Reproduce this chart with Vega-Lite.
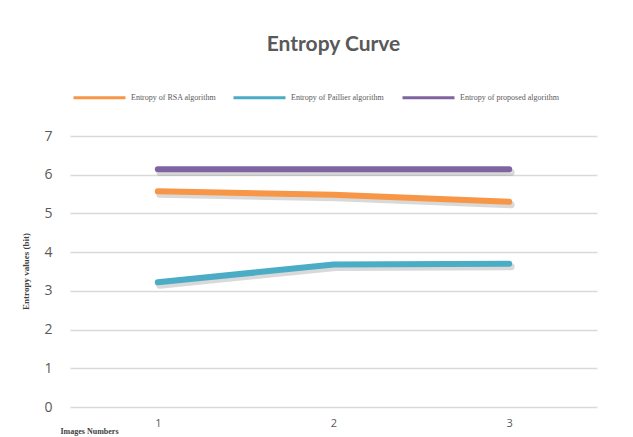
{
  "$schema": "https://vega.github.io/schema/vega-lite/v6.json",
  "autosize": "none",
  "width": 527,
  "height": 271,
  "padding": {"left": 70, "top": 136, "right": 36, "bottom": 30},
  "background": "white",
  "title": {
    "text": "Entropy Curve",
    "anchor": "middle",
    "font": "Lato",
    "fontSize": 21,
    "fontWeight": "bold",
    "color": "#595959",
    "offset": 15
  },
  "data": {
    "values": [
      {"image": "1", "series": "Entropy of RSA algorithm", "entropy": 5.57},
      {"image": "2", "series": "Entropy of RSA algorithm", "entropy": 5.48},
      {"image": "3", "series": "Entropy of RSA algorithm", "entropy": 5.30},
      {"image": "1", "series": "Entropy of Paillier  algorithm", "entropy": 3.22},
      {"image": "2", "series": "Entropy of Paillier  algorithm", "entropy": 3.68},
      {"image": "3", "series": "Entropy of Paillier  algorithm", "entropy": 3.70},
      {"image": "1", "series": "Entropy of proposed  algorithm", "entropy": 6.14},
      {"image": "2", "series": "Entropy of proposed  algorithm", "entropy": 6.14},
      {"image": "3", "series": "Entropy of proposed  algorithm", "entropy": 6.14}
    ]
  },
  "encoding": {
    "x": {
      "field": "image",
      "type": "ordinal",
      "scale": {"type": "point", "padding": 0.5},
      "axis": {
        "title": "Images Numbers",
        "titleFont": "Liberation Serif",
        "titleFontSize": 8,
        "titleFontWeight": "bold",
        "titleColor": "#404040",
        "titleAnchor": "start",
        "titleAlign": "left",
        "titleX": -10,
        "titleY": 20,
        "labelAngle": 0,
        "labelFont": "Open Sans",
        "labelFontSize": 11,
        "labelColor": "#595959",
        "labelPadding": 10,
        "ticks": false,
        "domain": false,
        "grid": false
      }
    },
    "y": {
      "field": "entropy",
      "type": "quantitative",
      "scale": {"domain": [0, 7], "nice": false},
      "axis": {
        "title": "Entropy values (bit)",
        "titleFont": "Liberation Serif",
        "titleFontSize": 9,
        "titleFontWeight": "bold",
        "titleColor": "#404040",
        "titleX": -40,
        "titleY": 135,
        "titleAlign": "center",
        "titleAngle": 270,
        "values": [0, 1, 2, 3, 4, 5, 6, 7],
        "labelFont": "Open Sans",
        "labelFontSize": 14,
        "labelColor": "#595959",
        "labelPadding": 18,
        "ticks": false,
        "domain": false,
        "grid": true,
        "gridColor": "#D9D9D9",
        "gridWidth": 1.3
      }
    }
  },
  "layer": [
    {
      "mark": {"type": "line", "strokeWidth": 7, "strokeCap": "round", "strokeJoin": "round", "color": "#000000", "opacity": 0.15, "xOffset": 2, "yOffset": 3},
      "encoding": {"detail": {"field": "series"}}
    },
    {
      "mark": {"type": "line", "strokeWidth": 6, "strokeCap": "round", "strokeJoin": "round"},
      "encoding": {
        "color": {
          "field": "series",
          "type": "nominal",
          "sort": null,
          "scale": {
            "domain": ["Entropy of RSA algorithm", "Entropy of Paillier  algorithm", "Entropy of proposed  algorithm"],
            "range": ["#F79646", "#4BACC6", "#8064A2"]
          },
          "legend": {
            "title": null,
            "orient": "none",
            "direction": "horizontal",
            "legendX": 2,
            "legendY": -66,
            "symbolType": "stroke",
            "symbolSize": 2704,
            "symbolStrokeWidth": 3,
            "labelFont": "Liberation Serif",
            "labelFontSize": 8,
            "labelColor": "#595959",
            "labelOffset": 4,
            "columnPadding": 10,
            "labelLimit": 300
          }
        }
      }
    }
  ],
  "config": {"view": {"stroke": null}}
}
